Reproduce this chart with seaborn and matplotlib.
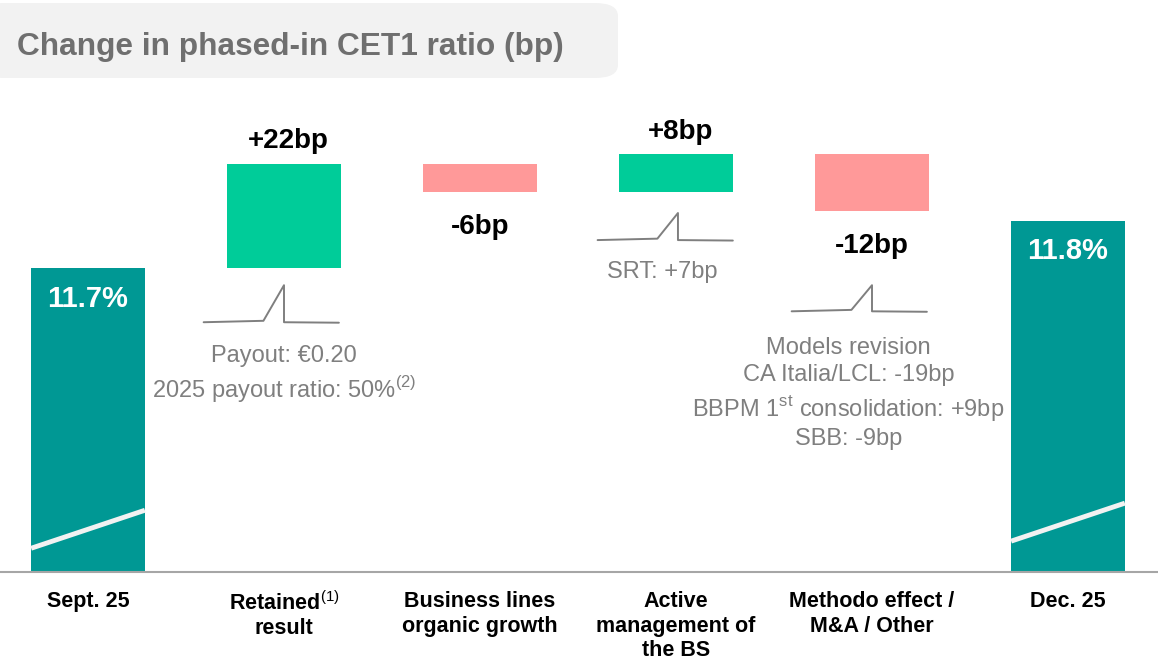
import matplotlib
matplotlib.use("Agg")
import matplotlib.pyplot as plt
from matplotlib.patches import FancyBboxPatch
import numpy as np
import seaborn as sns

# data
CATEGORIES = [
    "Sept. 25",
    "Retained$^{\\mathrm{(1)}}$\nresult",
    "Business lines\norganic growth",
    "Active\nmanagement of\nthe BS",
    "Methodo effect /\nM&A / Other",
    "Dec. 25",
]
START_PCT = 11.7
END_PCT = 11.8
DELTAS_BP = [22, -6, 8, -12]
DELTA_LABELS = ["+22bp", "-6bp", "+8bp", "-12bp"]
LEVEL_LABELS = ["11.7%", "11.8%"]

# broken axis: bars start from this level
AXIS_BASE_PCT = 11.06

TEAL = "#009894"
GREEN = "#00CC99"
PINK = "#FF9999"
GRAY_TXT = "#7F7F7F"

sns.set_theme(style="white")
plt.rcParams["font.family"] = ["Liberation Sans", "DejaVu Sans"]
plt.rcParams["mathtext.fontset"] = "custom"
plt.rcParams["mathtext.rm"] = "Liberation Sans"
plt.rcParams["mathtext.bf"] = "Liberation Sans:bold"

start_bp = (START_PCT - AXIS_BASE_PCT) * 100
end_bp = (END_PCT - AXIS_BASE_PCT) * 100
levels = start_bp + np.cumsum([0] + DELTAS_BP)
bottoms = [0.0]
heights = [start_bp]
colors = [TEAL]
for i, d in enumerate(DELTAS_BP):
    bottoms.append(min(levels[i], levels[i + 1]))
    heights.append(abs(d))
    colors.append(GREEN if d > 0 else PINK)
bottoms.append(0.0)
heights.append(end_bp)
colors.append(TEAL)

fig = plt.figure(figsize=(11.58, 6.6), dpi=100)
ax = fig.add_axes([-10 / 1158, 88 / 660, 1176 / 1158, 472 / 660])

sns.barplot(x=CATEGORIES, y=heights, bottom=bottoms, width=0.58,
            errorbar=None, ax=ax, color=TEAL, linewidth=0)
for patch, c in zip(ax.patches, colors):
    patch.set_facecolor(c)

ax.set_xlim(-0.5, 5.5)
ax.set_ylim(0, 99.4)
ax.set_yticks([])
ax.set_ylabel("")
for s in ["top", "left", "right"]:
    ax.spines[s].set_visible(False)
ax.spines["bottom"].set_color("#A6A6A6")
ax.spines["bottom"].set_linewidth(1.5)
ax.tick_params(axis="x", which="major", length=0, pad=14, labelsize=15.5)
ax.set_xticks(np.arange(0.5, 5.5, 1), minor=True)
ax.tick_params(axis="x", which="minor", length=8, width=1, color="#BFBFBF",
               direction="out")
for lbl in ax.get_xticklabels():
    lbl.set_fontweight("bold")
    lbl.set_color("black")
    lbl.set_linespacing(1.2)

# delta labels
for i, (d, txt) in enumerate(zip(DELTAS_BP, DELTA_LABELS)):
    x = i + 1
    if d > 0:
        ax.annotate(txt, (x, levels[i + 1]), xytext=(3, 16), textcoords="offset points",
                    ha="center", va="center", fontsize=20, fontweight="bold", color="black")
    else:
        ax.annotate(txt, (x, levels[i + 1]), xytext=(0, -25), textcoords="offset points",
                    ha="center", va="center", fontsize=20, fontweight="bold", color="black")

# level labels inside end bars
for x, top, txt in [(0, start_bp, LEVEL_LABELS[0]), (5, end_bp, LEVEL_LABELS[1])]:
    ax.annotate(txt, (x, top), xytext=(0, -22), textcoords="offset points",
                ha="center", va="center", fontsize=21, fontweight="bold", color="white")

# axis-break marks on the end bars
for x, (y0, y1) in [(0, (5, 13)), (5, (6.5, 14.5))]:
    ax.plot([x - 0.29, x + 0.29], [y0, y1], color="#F2F2F2", lw=3.5,
            solid_capstyle="butt", zorder=3)

# small zigzag markers
def zigzag(xc, y0, y1):
    xs = np.array([-0.38, -0.075, 0.03, 0.03, 0.31]) + xc
    ys = [y0, y0 + 0.3, y1, y0, y0 - 0.1]
    ax.plot(xs, ys, color="#7F7F7F", lw=1.4, zorder=3)

zigzag(0.97, 52.6, 60.4)
zigzag(2.98, 69.9, 75.6)
zigzag(3.97, 54.9, 60.4)

ax.text(1, 41.5, "Payout: €0.20\n2025 payout ratio: 50%$^{\\mathrm{(2)}}$",
        ha="center", va="center", fontsize=17, color=GRAY_TXT, linespacing=1.3)
ax.text(2.93, 63.2, "SRT: +7bp", ha="center", va="center", fontsize=17, color=GRAY_TXT)
ax.text(3.88, 37.5,
        "Models revision\nCA Italia/LCL: -19bp\nBBPM 1$^{\\mathrm{st}}$ consolidation: +9bp\nSBB: -9bp",
        ha="center", va="center", fontsize=17, color=GRAY_TXT, linespacing=1.3)

# title box
box = FancyBboxPatch((-20 / 1158, 1 - 78 / 660), 638 / 1158, 75 / 660,
                     boxstyle="round,pad=0,rounding_size=0.02",
                     transform=fig.transFigure, facecolor="#F2F2F2", edgecolor="none")
fig.patches.append(box)
fig.text(17 / 1158, 1 - 47 / 660, "Change in phased-in CET1 ratio (bp)",
         ha="left", va="center", fontsize=22.8, fontweight="bold", color="#6F6F6F")

fig.savefig("out.png", dpi=100)
